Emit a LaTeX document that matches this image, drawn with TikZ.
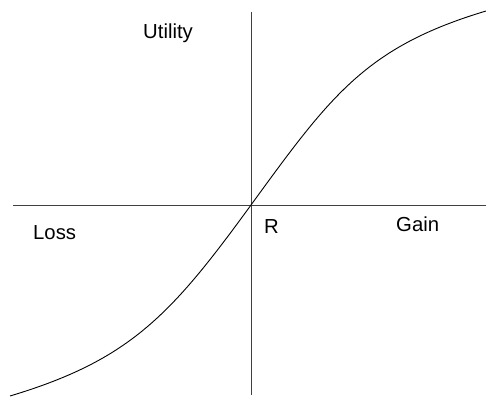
\documentclass[tikz,border=0pt]{standalone}
\usepackage{fontspec}
\setmainfont{Liberation Sans}
\begin{document}
\begin{tikzpicture}[x=1pt,y=1pt,
  axis/.style={draw=black!75,line width=0.9pt},
  curve/.style={draw=black,line width=0.9pt},
  lbl/.style={anchor=base west,inner sep=0pt,font=\fontsize{20.3}{24}\selectfont}]
\useasboundingbox (0,0) rectangle (486,396);
% axes
\coordinate (vtop) at (251,384);
\coordinate (vbot) at (251,1);
\coordinate (hleft) at (13,191);
\coordinate (hright) at (486,191);
\coordinate (R0) at (251,191);
\draw[axis] (vtop) -- (vbot);
\draw[axis] (hleft) -- (hright);
% curve
\coordinate (cstart) at (10,0);
\coordinate (cend) at (486,385);
\draw[curve] (cstart) .. controls (130,36) and (171,81) .. (R0)
  .. controls (331,301) and (366,349) .. (cend);
% labels
\node[lbl] (utility) at (143,357) {Utility};
\node[lbl] (loss) at (33,156) {Loss};
\node[lbl] (r) at (264,162) {R};
\node[lbl] (gain) at (396,164) {Gain};
\end{tikzpicture}
\end{document}
